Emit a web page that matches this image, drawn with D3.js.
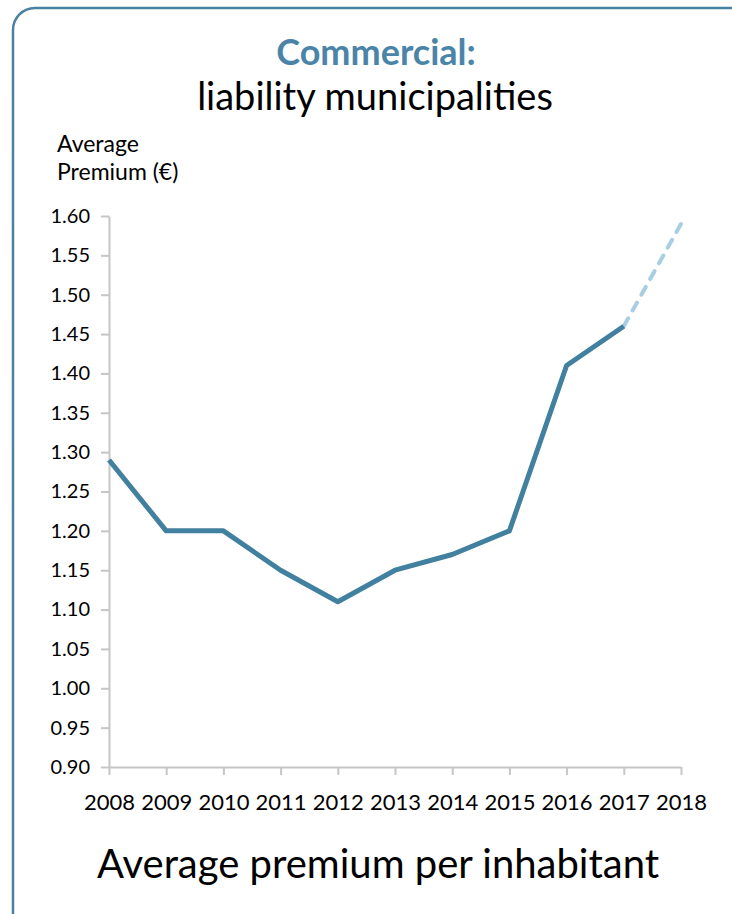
<!DOCTYPE html>
<html>
<head>
<meta charset="utf-8">
<script src="https://cdn.jsdelivr.net/npm/d3@7"></script>
<style>
  body { margin: 0; background: #fff; }
  svg text { font-family: Lato, "Open Sans", sans-serif; fill: #000; }
</style>
</head>
<body>
<svg id="chart"></svg>
<script>
var years = [2008, 2009, 2010, 2011, 2012, 2013, 2014, 2015, 2016, 2017, 2018];
var actualYears = [2008, 2009, 2010, 2011, 2012, 2013, 2014, 2015, 2016, 2017];
var actualValues = [1.29, 1.20, 1.20, 1.15, 1.11, 1.15, 1.17, 1.20, 1.41, 1.46];
var forecastYears = [2017, 2018];
var forecastValues = [1.46, 1.59];
var yTicks = [0.90, 0.95, 1.00, 1.05, 1.10, 1.15, 1.20, 1.25, 1.30, 1.35, 1.40, 1.45, 1.50, 1.55, 1.60];

var width = 732, height = 914;
var margin = {top: 216, left: 109, right: 51, bottom: 147};
var chartWidth = width - margin.left - margin.right;
var chartHeight = height - margin.top - margin.bottom;

var svg = d3.select('#chart')
    .attr('width', width)
    .attr('height', height);

// rounded frame, runs off the right and bottom edge
svg.append('rect')
    .attr('x', 13)
    .attr('y', 8)
    .attr('width', 760)
    .attr('height', 940)
    .attr('rx', 22)
    .attr('fill', 'none')
    .attr('stroke', '#4a80a1')
    .attr('stroke-width', 2.5);

// titles
svg.append('text')
    .attr('x', 376).attr('y', 65)
    .attr('text-anchor', 'middle')
    .style('font-size', '36px')
    .style('font-weight', 'bold')
    .style('fill', '#4a84a8')
    .text('Commercial:');
svg.append('text')
    .attr('x', 375).attr('y', 110)
    .attr('text-anchor', 'middle')
    .style('font-size', '38px')
    .text('liability municipalities');

svg.append('text')
    .attr('x', 57).attr('y', 152)
    .style('font-size', '23px')
    .text('Average');
svg.append('text')
    .attr('x', 57).attr('y', 180)
    .style('font-size', '23px')
    .text('Premium (€)');

var chartArea = svg.append('g')
    .attr('transform', `translate(${margin.left},${margin.top})`);

var xScale = d3.scaleLinear()
    .domain([2008, 2018])
    .range([0, chartWidth]);

var yScale = d3.scaleLinear()
    .domain([0.90, 1.60])
    .range([chartHeight, 0]);

// y axis
var yAxis = chartArea.append('g')
    .call(d3.axisLeft(yScale)
        .tickValues(yTicks)
        .tickFormat(d3.format('.2f'))
        .tickSize(8)
        .tickSizeOuter(0)
        .tickPadding(11));

// x axis
var xAxis = chartArea.append('g')
    .attr('transform', `translate(0,${chartHeight})`)
    .call(d3.axisBottom(xScale)
        .tickValues(years)
        .tickFormat(d3.format('d'))
        .tickSize(8)
        .tickSizeOuter(0)
        .tickPadding(19));

[yAxis, xAxis].forEach(function (ax) {
    ax.selectAll('path, line')
        .attr('stroke', '#c6c6c6')
        .attr('stroke-width', 2);
    ax.selectAll('text')
        .style('font-family', 'Lato, "Open Sans", sans-serif')
        .attr('fill', '#000');
});
yAxis.selectAll('text').style('font-size', '20px');
xAxis.selectAll('text').style('font-size', '22px');

var line = d3.line()
    .x(function (d) { return xScale(d[0]); })
    .y(function (d) { return yScale(d[1]); });

// forecast (dashed)
chartArea.append('path')
    .datum(d3.zip(forecastYears, forecastValues))
    .attr('fill', 'none')
    .attr('stroke', '#a9cde2')
    .attr('stroke-width', 4)
    .attr('stroke-linecap', 'round')
    .attr('stroke-dasharray', '9,9')
    .attr('d', line);

// actual values
chartArea.append('path')
    .datum(d3.zip(actualYears, actualValues))
    .attr('fill', 'none')
    .attr('stroke', '#41809f')
    .attr('stroke-width', 5)
    .attr('stroke-linejoin', 'round')
    .attr('d', line);

svg.append('text')
    .attr('x', 378).attr('y', 878)
    .attr('text-anchor', 'middle')
    .style('font-size', '40px')
    .text('Average premium per inhabitant');
</script>
</body>
</html>
